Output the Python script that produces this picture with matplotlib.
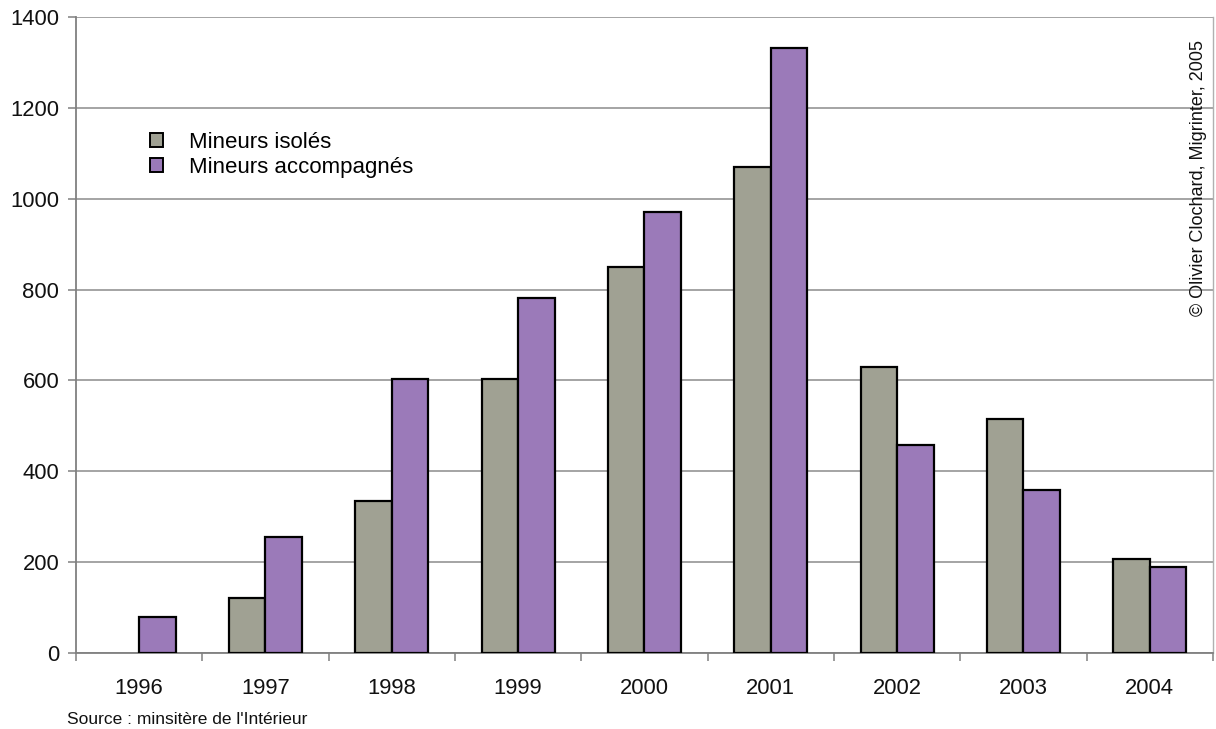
import matplotlib
matplotlib.use("Agg")
import matplotlib.pyplot as plt
import numpy as np
from matplotlib.patches import Patch

years = ["1996", "1997", "1998", "1999", "2000", "2001", "2002", "2003", "2004"]
isoles = [0, 122, 335, 603, 850, 1070, 630, 515, 207]
accompagnes = [80, 255, 603, 781, 971, 1332, 458, 359, 189]
yticks = [0, 200, 400, 600, 800, 1000, 1200, 1400]

plt.rcParams['font.family'] = ['Liberation Sans', 'DejaVu Sans']

fig = plt.figure(figsize=(12.16, 7.29), dpi=100)
ax = fig.add_axes([0.0625, 0.1043, 0.935, 0.8724])

gray = "#a0a193"
purple = "#9b7ab9"
x = np.arange(len(years))
w = 0.29
b1 = ax.bar(x - w/2, isoles, w, color=gray, edgecolor="black", linewidth=1.6, zorder=3)
b2 = ax.bar(x + w/2, accompagnes, w, color=purple, edgecolor="black", linewidth=1.6, zorder=3)
for bars, vals in ((b1, isoles), (b2, accompagnes)):
    for r, v in zip(bars, vals):
        if v == 0:
            r.set_linewidth(0)

ax.set_xlim(-0.5, len(years) - 0.5)
ax.set_ylim(0, 1400)
ax.set_yticks(yticks)
ax.set_yticklabels([str(v) for v in yticks], fontsize=15.8, color="#111111")
ax.yaxis.grid(True, color="#8c8c8c", linewidth=1.1, zorder=0)
ax.set_axisbelow(True)

ax.set_xticks(x)
ax.set_xticklabels(years, fontsize=15.8, color="#111111")
ax.tick_params(axis='x', length=0, pad=18)
ax.set_xticks(np.arange(-0.5, len(years)), minor=True)
ax.tick_params(axis='x', which='minor', length=6, color="#808080", width=1.1)
ax.tick_params(axis='y', length=6, color="#808080", width=1.1, pad=6)

ax.spines["top"].set_visible(False)
ax.spines["left"].set_color("#808080")
ax.spines["left"].set_linewidth(1.3)
ax.spines["bottom"].set_color("#808080")
ax.spines["bottom"].set_linewidth(1.3)
ax.spines["right"].set_color("#b0b0b0")
ax.spines["right"].set_linewidth(1.0)

handles = [Patch(facecolor=gray, edgecolor="black", linewidth=1.4),
           Patch(facecolor=purple, edgecolor="black", linewidth=1.4)]
leg = ax.legend(handles, ["Mineurs isolés", "Mineurs accompagnés"],
                loc="upper left", bbox_to_anchor=(0.057, 0.833), frameon=False,
                fontsize=16, handlelength=0.6, handleheight=0.6,
                handletextpad=1.15, labelspacing=0.17, borderaxespad=0)

fig.text(0.9855, 0.756, "© Olivier Clochard, Migrinter, 2005", rotation=90,
         fontsize=13, ha="center", va="center", color="#111111")
fig.text(0.055, 0.003, "Source : minsitère de l'Intérieur", fontsize=12.5,
         ha="left", va="bottom", color="#111111")

fig.savefig("out.png", dpi=100)
